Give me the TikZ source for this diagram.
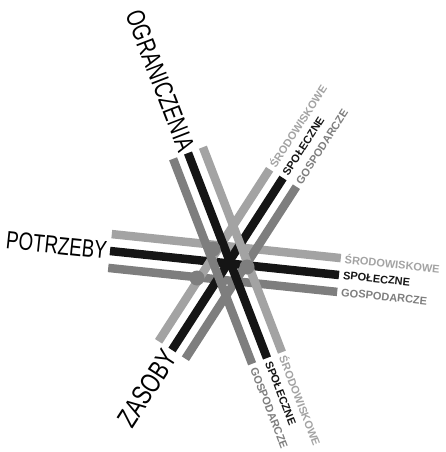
\documentclass[tikz,border=0pt]{standalone}
\usepackage{fontspec}
\setmainfont{Liberation Sans}
\newfontfamily\narrowfnt[FakeStretch=0.75]{Liberation Sans}
\usetikzlibrary{calc}
\definecolor{lgray}{HTML}{A3A3A3}
\definecolor{mgray}{HTML}{7E7E7E}
\definecolor{bk}{HTML}{151515}
\begin{document}
\begin{tikzpicture}[x=1pt,y=-1pt,
  bar/.style={line width=8.5pt},
  bigtxt/.style={font=\narrowfnt\fontsize{25}{25}\selectfont, inner sep=0pt, anchor=east},
  smalltxt/.style={font=\bfseries\fontsize{11}{11}\selectfont, inner sep=0pt, anchor=west},
  dot/.style={circle, fill=mgray, minimum size=15pt, inner sep=0pt}]
\useasboundingbox (0,0) rectangle (445,452);
% bundle B (POTRZEBY)
\coordinate (B1) at (110,251);    \coordinate (B2) at (339,275);
\coordinate (BL1) at (111.8,234.1); \coordinate (BL2) at (340.8,258.1);
\coordinate (BM1) at (108.2,267.9); \coordinate (BM2) at (337.2,291.9);
% bundle C (ZASOBY)
\coordinate (C1) at (172,350);    \coordinate (C2) at (283,178);
\coordinate (CL1) at (158.6,341.3); \coordinate (CL2) at (269.6,169.3);
\coordinate (CM1) at (185.4,358.7); \coordinate (CM2) at (296.4,186.7);
% bundle A (OGRANICZENIA)
\coordinate (A1) at (188,153);    \coordinate (A2) at (267,358);
\coordinate (AL1) at (202.9,147.2); \coordinate (AL2) at (281.9,352.2);
\coordinate (AM1) at (173.1,158.8); \coordinate (AM2) at (252.1,363.8);

\draw[bar, lgray] (BL1) -- (BL2);
\draw[bar, bk] (B1) -- (B2);
\draw[bar, mgray] (BM1) -- (BM2);
\draw[bar, lgray] (CL1) -- (CL2);
\draw[bar, bk] (C1) -- (C2);
\draw[bar, mgray] (CM1) -- (CM2);
\draw[bar, lgray] (AL1) -- (AL2);
\draw[bar, bk] (A1) -- (A2);
\draw[bar, mgray] (AM1) -- (AM2);

\node[dot] (d1) at (213,249) {};
\node[dot] (d2) at (247,267) {};
\node[dot] (d3) at (197,278) {};

\node[bigtxt, font=\narrowfnt\fontsize{26}{26}\selectfont, rotate=-68.9] (og) at ($(A1)!-3pt!(A2)$) {OGRANICZENIA};
\node[bigtxt, rotate=-6] (po) at ($(B1)!-3pt!(B2)$) {POTRZEBY};
\node[bigtxt, font=\narrowfnt\fontsize{28}{28}\selectfont, rotate=57.2] (za) at ($(C1)!-3pt!(C2)$) {ZASOBY};

\node[smalltxt, text=lgray, rotate=-68.9] (a1) at ($(AL2)!-4pt!(AL1)$) {ŚRODOWISKOWE};
\node[smalltxt, text=bk, rotate=-68.9] (a2) at ($(A2)!-4pt!(A1)$) {SPOŁECZNE};
\node[smalltxt, text=mgray, rotate=-68.9] (a3) at ($(AM2)!-4pt!(AM1)$) {GOSPODARCZE};

\node[smalltxt, text=lgray, rotate=-6] (b1) at ($(BL2)!-4pt!(BL1)$) {ŚRODOWISKOWE};
\node[smalltxt, text=bk, rotate=-6] (b2) at ($(B2)!-4pt!(B1)$) {SPOŁECZNE};
\node[smalltxt, text=mgray, rotate=-6] (b3) at ($(BM2)!-4pt!(BM1)$) {GOSPODARCZE};

\node[smalltxt, text=lgray, rotate=57.2] (c1) at ($(CL2)!-4pt!(CL1)$) {ŚRODOWISKOWE};
\node[smalltxt, text=bk, rotate=57.2] (c2) at ($(C2)!-4pt!(C1)$) {SPOŁECZNE};
\node[smalltxt, text=mgray, rotate=57.2] (c3) at ($(CM2)!-4pt!(CM1)$) {GOSPODARCZE};
\end{tikzpicture}
\end{document}
